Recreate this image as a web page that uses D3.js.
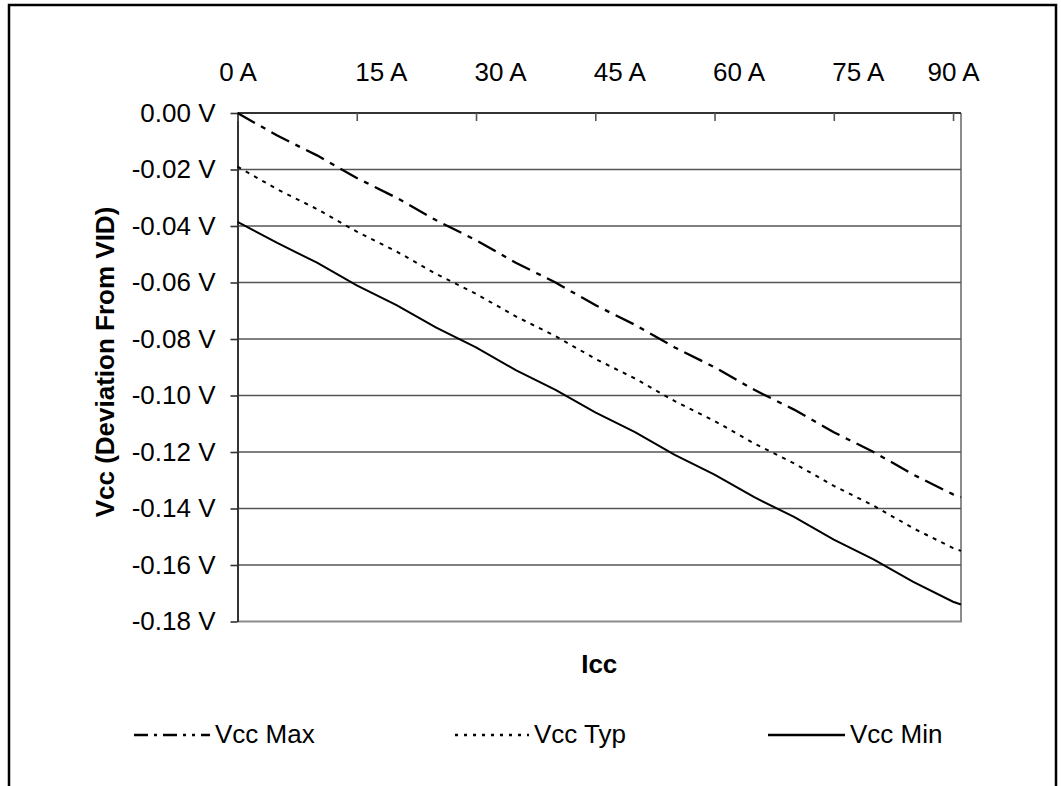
<!DOCTYPE html>
<html><head><meta charset="utf-8">
<script src="https://cdn.jsdelivr.net/npm/d3@7"></script>
<style>body{margin:0;background:#fff}svg{display:block}text{font-family:"Liberation Sans",Arial,sans-serif}</style>
</head><body><svg id="c" width="1061" height="786"></svg>
<script>
// Data
const icc = [0,5,10,15,20,25,30,35,40,45,50,55,60,65,70,75,80,85,90,91];
const vccMax = [0,-0.008,-0.015,-0.023,-0.030,-0.038,-0.045,-0.053,-0.060,-0.068,-0.075,-0.083,-0.090,-0.098,-0.105,-0.113,-0.120,-0.128,-0.135,-0.136];
const vccTyp = [-0.019,-0.027,-0.034,-0.042,-0.049,-0.057,-0.064,-0.072,-0.079,-0.087,-0.094,-0.102,-0.109,-0.117,-0.124,-0.132,-0.139,-0.147,-0.154,-0.155];
const vccMin = [-0.0385,-0.046,-0.053,-0.061,-0.068,-0.076,-0.083,-0.091,-0.098,-0.106,-0.113,-0.121,-0.128,-0.136,-0.143,-0.151,-0.158,-0.166,-0.173,-0.174];
const xTicks = [0,15,30,45,60,75,90];
const xTickLabels = ["0 A","15 A","30 A","45 A","60 A","75 A","90 A"];
const yTicks = [0,-0.02,-0.04,-0.06,-0.08,-0.10,-0.12,-0.14,-0.16,-0.18];
const yTickLabels = ["0.00 V","-0.02 V","-0.04 V","-0.06 V","-0.08 V","-0.10 V","-0.12 V","-0.14 V","-0.16 V","-0.18 V"];
const seriesNames = ["Vcc Max","Vcc Typ","Vcc Min"];

const svg = d3.select("#c");
const L = 237.5, R = 961, T = 113, B = 621.5;
const FS = 26;
const x = d3.scaleLinear().domain([0,91]).range([L,R]);
const y = d3.scaleLinear().domain([0,-0.18]).range([T,B]);

// outer frame
svg.append("rect").attr("x",9).attr("y",5).attr("width",1047).attr("height",820)
  .attr("fill","none").attr("stroke","#000").attr("stroke-width",2.5);

// plot border (right & bottom)
svg.append("path").attr("d",`M${L},${B}H${R}V${T}`).attr("fill","none").attr("stroke","#8c8c8c").attr("stroke-width",2);

// gridlines
svg.append("g").selectAll("line").data(yTicks.slice(1,-1)).join("line")
  .attr("x1",L).attr("x2",R).attr("y1",d=>y(d)).attr("y2",d=>y(d))
  .attr("stroke","#555").attr("stroke-width",1.6);

// y axis
const ya = svg.append("g").attr("transform",`translate(${L},0)`)
  .call(d3.axisLeft(y).tickValues(yTicks).tickSizeInner(7).tickSizeOuter(0).tickPadding(15)
    .tickFormat((d,i)=>yTickLabels[i]));
ya.select(".domain").attr("stroke","#333").attr("stroke-width",2);
ya.selectAll(".tick line").attr("stroke","#333").attr("stroke-width",1.6);
ya.selectAll("text").attr("font-size",FS).attr("fill","#000")
  .attr("font-family","Liberation Sans, Arial, sans-serif");

// x axis (top)
const xa = svg.append("g").attr("transform",`translate(0,${T})`)
  .call(d3.axisTop(x).tickValues(xTicks).tickSizeInner(-8).tickSizeOuter(0).tickPadding(32)
    .tickFormat((d,i)=>xTickLabels[i]));
xa.select(".domain").attr("d",`M${L},0H${R}`).attr("stroke","#333").attr("stroke-width",2);
xa.selectAll(".tick line").attr("stroke","#555").attr("stroke-width",1.6);
xa.selectAll("text").attr("font-size",FS).attr("fill","#000")
  .attr("font-family","Liberation Sans, Arial, sans-serif")
  .attr("text-anchor",(d,i)=> (i===0||i===xTicks.length-1) ? "middle" : "start")
  .attr("dx",(d,i)=> (i===0||i===xTicks.length-1) ? 0 : -2);

// lines
const styles = [
  {dash:"20,7,5,7", w:2.3},
  {dash:"4,5.5", w:2},
  {dash:null, w:2}
];
const allSeries = [vccMax, vccTyp, vccMin];
const line = d3.line().x((d,i)=>x(icc[i])).y(d=>y(d));
allSeries.forEach((s,k)=>{
  svg.append("path").datum(s).attr("d",line).attr("fill","none")
    .attr("stroke","#000").attr("stroke-width",styles[k].w)
    .attr("stroke-dasharray",styles[k].dash);
});

// axis titles
svg.append("text").attr("x",(L+R)/2).attr("y",673).attr("text-anchor","middle")
  .attr("font-size",FS).attr("font-weight","bold").text("Icc");
svg.append("text").attr("transform","translate(114,362) rotate(-90)").attr("text-anchor","middle")
  .attr("font-size",FS).attr("font-weight","bold").text("Vcc (Deviation From VID)");

// legend
const legX = [[134,210],[455,529],[768,845]];
const legDash = ["14,6,3,6,14,6,3,6,3,6","3,6",null];
seriesNames.forEach((n,k)=>{
  svg.append("line").attr("x1",legX[k][0]).attr("x2",legX[k][1]).attr("y1",735).attr("y2",735)
    .attr("stroke","#000").attr("stroke-width",2.3).attr("stroke-dasharray",legDash[k]);
  svg.append("text").attr("x",legX[k][1]+5).attr("y",743).attr("font-size",FS).text(n);
});
</script></body></html>
